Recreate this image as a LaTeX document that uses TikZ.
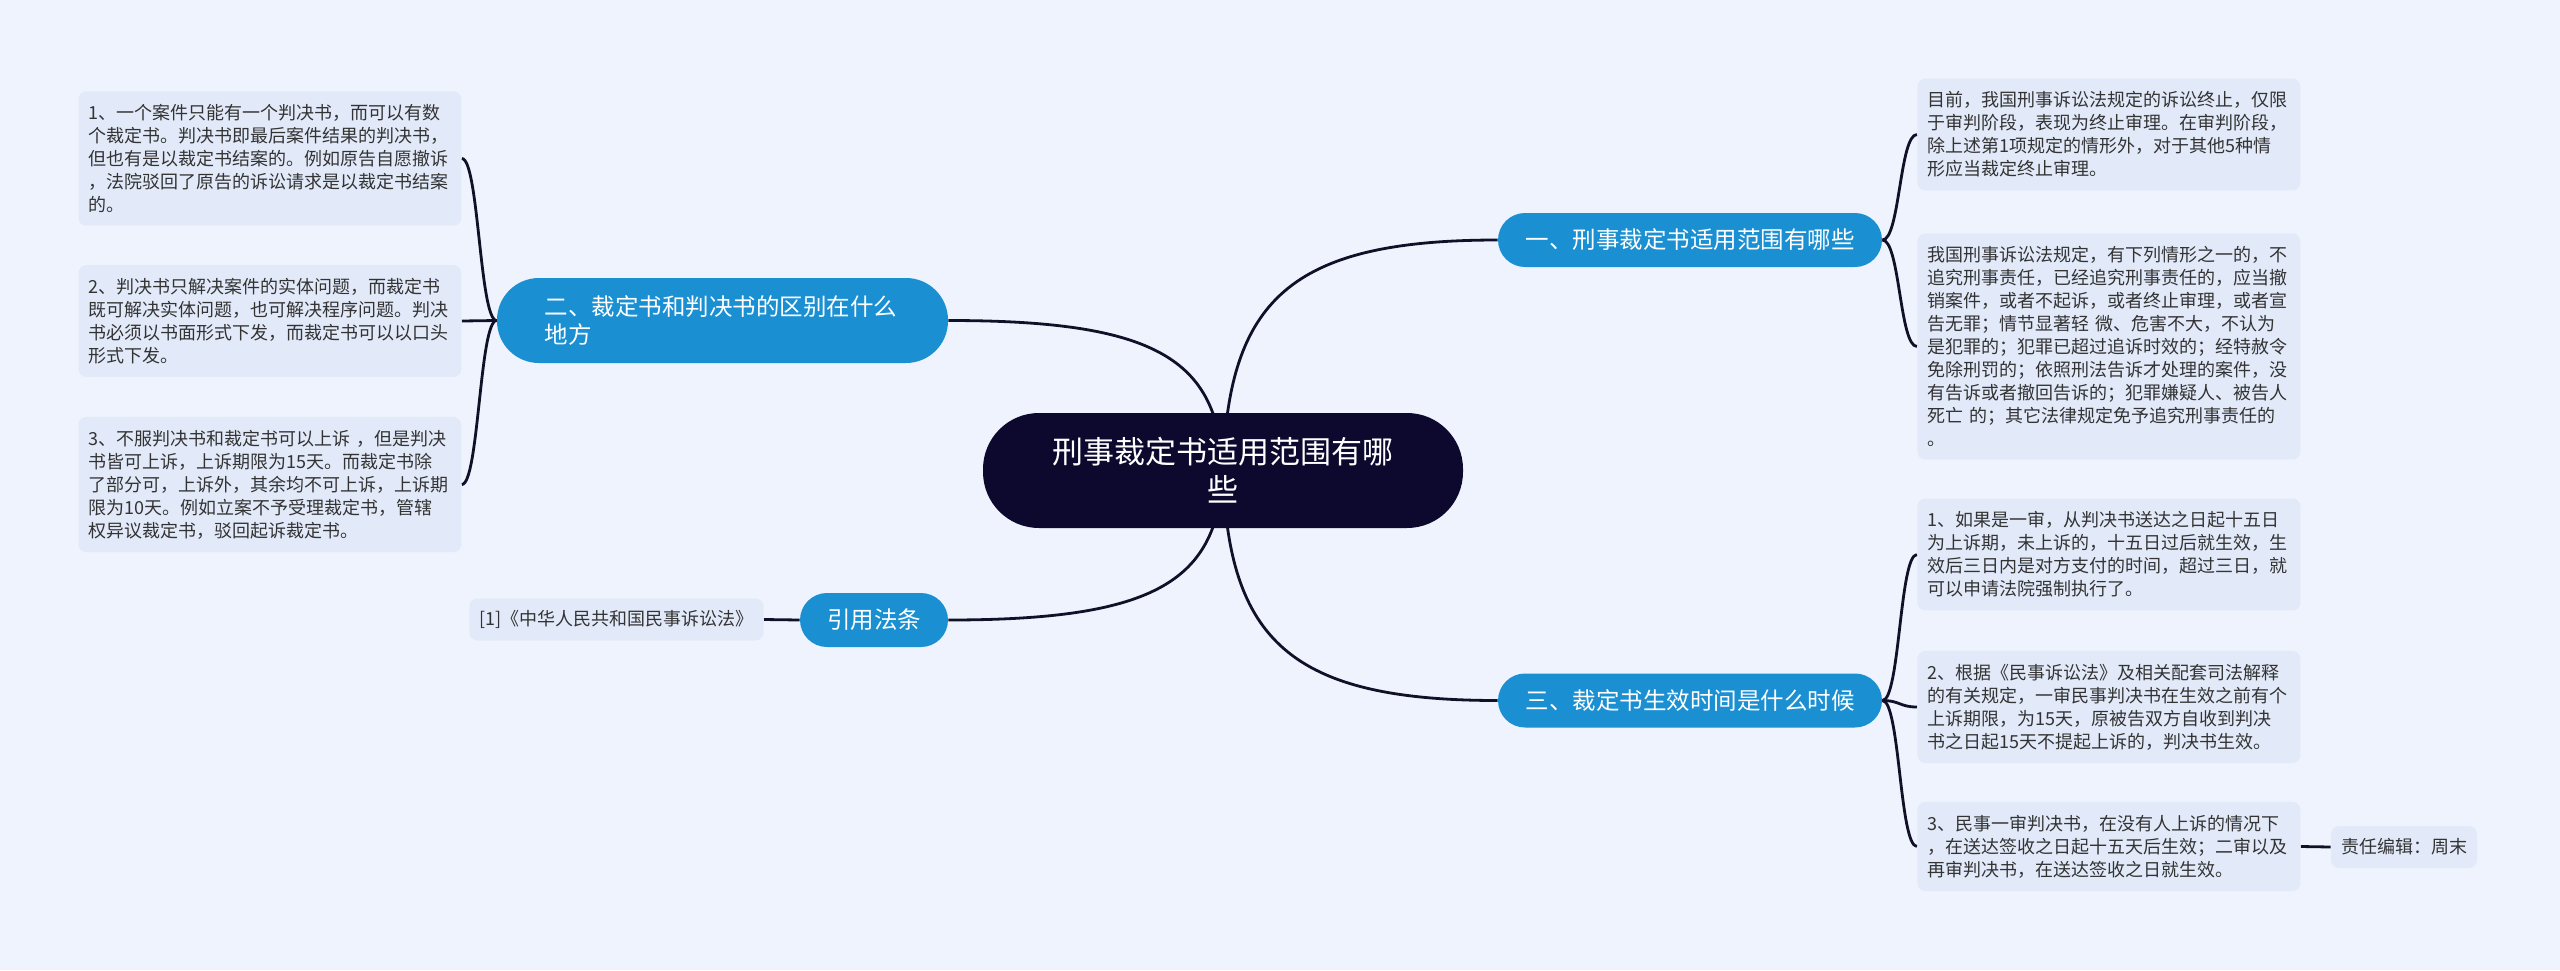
\documentclass[tikz,border=0pt]{standalone}
\usepackage{fontspec}
\setmainfont{Noto Sans CJK SC}
\usetikzlibrary{calc}
\pgfdeclarelayer{back}
\pgfdeclarelayer{bg}
\pgfsetlayers{back,bg,main}
\definecolor{bgc}{RGB}{238,243,253}
\definecolor{leafc}{RGB}{226,234,250}
\definecolor{bluec}{RGB}{26,144,210}
\definecolor{rootc}{RGB}{12,8,46}
\definecolor{linec}{RGB}{16,16,40}
\definecolor{txtc}{RGB}{51,51,51}
\begin{document}
\begin{tikzpicture}[x=0.5pt,y=-0.5pt,
  leaf/.style={fill=leafc, rounded corners=4pt, text=txtc,
    font=\fontsize{9}{11.5}\selectfont, align=left, inner xsep=5pt,
    inner ysep=6.5pt, text width=181.5pt},
  small/.style={fill=leafc, rounded corners=4pt, text=txtc,
    font=\fontsize{9}{11.5}\selectfont, inner xsep=5pt, minimum height=21pt},
  branch/.style={fill=bluec, text=white, rounded corners=13.5pt,
    minimum height=27pt, font=\fontsize{11.75}{14}\selectfont, inner xsep=6pt},
  root/.style={fill=rootc, text=white, rounded corners=28pt,
    minimum width=240pt, minimum height=57.5pt,
    font=\fontsize{15.5}{19}\selectfont, align=center},
  conn/.style={draw=linec, line width=1.4pt}]
\begin{pgfonlayer}{back}
\fill[bgc] (0,0) rectangle (2560,970);
\end{pgfonlayer}
\useasboundingbox (0,0) rectangle (2560,970);

% root
\node[root] (root) at (1223,470.5) {刑事裁定书适用范围有哪\\些};

% branches
\node[branch, minimum width=192pt] (b1) at (1690,240) {一、刑事裁定书适用范围有哪些};
\node[branch, minimum width=192pt] (b3) at (1690,700.5) {三、裁定书生效时间是什么时候};
\node[branch, minimum width=225.5pt, minimum height=42.5pt, rounded corners=21pt,
  text width=178pt, align=left] (b2) at (722.5,320.5) {二、裁定书和判决书的区别在什么\\地方};
\node[branch, minimum width=74pt] (b4) at (874,620) {引用法条};

% left leaves
\node[leaf, anchor=west] (l1) at (78,158.5) {1、一个案件只能有一个判决书，而可以有数\\个裁定书。判决书即最后案件结果的判决书，\\但也有是以裁定书结案的。例如原告自愿撤诉\\，法院驳回了原告的诉讼请求是以裁定书结案\\的。};
\node[leaf, anchor=west] (l2) at (78,321) {2、判决书只解决案件的实体问题，而裁定书\\既可解决实体问题，也可解决程序问题。判决\\书必须以书面形式下发，而裁定书可以以口头\\形式下发。};
\node[leaf, anchor=west] (l3) at (78,484.5) {3、不服判决书和裁定书可以上诉 ，但是判决\\书皆可上诉，上诉期限为15天。而裁定书除\\了部分可，上诉外，其余均不可上诉，上诉期\\限为10天。例如立案不予受理裁定书，管辖\\权异议裁定书，驳回起诉裁定书。};

% citation
\node[small] (cite) at (616.5,619.5) {[1]《中华人民共和国民事诉讼法》};

% right leaves
\node[leaf, anchor=west] (r1) at (1917,134.5) {目前，我国刑事诉讼法规定的诉讼终止，仅限\\于审判阶段，表现为终止审理。在审判阶段，\\除上述第1项规定的情形外，对于其他5种情\\形应当裁定终止审理。};
\node[leaf, anchor=west] (r2) at (1917,346.5) {我国刑事诉讼法规定，有下列情形之一的，不\\追究刑事责任，已经追究刑事责任的，应当撤\\销案件，或者不起诉，或者终止审理，或者宣\\告无罪；情节显著轻 微、危害不大，不认为\\是犯罪的；犯罪已超过追诉时效的；经特赦令\\免除刑罚的；依照刑法告诉才处理的案件，没\\有告诉或者撤回告诉的；犯罪嫌疑人、被告人\\死亡 的；其它法律规定免予追究刑事责任的\\。};
\node[leaf, anchor=west] (r3) at (1917,554.5) {1、如果是一审，从判决书送达之日起十五日\\为上诉期，未上诉的，十五日过后就生效，生\\效后三日内是对方支付的时间，超过三日，就\\可以申请法院强制执行了。};
\node[leaf, anchor=west] (r4) at (1917,707) {2、根据《民事诉讼法》及相关配套司法解释\\的有关规定，一审民事判决书在生效之前有个\\上诉期限，为15天，原被告双方自收到判决\\书之日起15天不提起上诉的，判决书生效。};
\node[leaf, anchor=west] (r5) at (1917,846.5) {3、民事一审判决书，在没有人上诉的情况下\\，在送达签收之日起十五天后生效；二审以及\\再审判决书，在送达签收之日就生效。};

% editor
\node[small] (ed) at (2404,847) {责任编辑：周末};

\begin{pgfonlayer}{bg}
  % root to branches
  \draw[conn] (root.center) .. controls (1228,300) and (1290,240) .. (b1.west);
  \draw[conn] (root.center) .. controls (1228,640) and (1290,700.5) .. (b3.west);
  \draw[conn] (root.center) .. controls (1218,359) and (1156,320.5) .. (b2.east);
  \draw[conn] (root.center) .. controls (1218,581) and (1156,620) .. (b4.east);
  % left brace
  \draw[conn] (b2.west) .. controls ($(b2.west)+(-17,0)$) and ($(l1.east)+(17,0)$) .. (l1.east);
  \draw[conn] (b2.west) .. controls ($(b2.west)+(-17,0)$) and ($(l2.east)+(17,0)$) .. (l2.east);
  \draw[conn] (b2.west) .. controls ($(b2.west)+(-17,0)$) and ($(l3.east)+(17,0)$) .. (l3.east);
  % right braces
  \draw[conn] (b1.east) .. controls ($(b1.east)+(17.5,0)$) and ($(r1.west)+(-17.5,0)$) .. (r1.west);
  \draw[conn] (b1.east) .. controls ($(b1.east)+(17.5,0)$) and ($(r2.west)+(-17.5,0)$) .. (r2.west);
  \draw[conn] (b3.east) .. controls ($(b3.east)+(17.5,0)$) and ($(r3.west)+(-17.5,0)$) .. (r3.west);
  \draw[conn] (b3.east) .. controls ($(b3.east)+(17.5,0)$) and ($(r4.west)+(-17.5,0)$) .. (r4.west);
  \draw[conn] (b3.east) .. controls ($(b3.east)+(17.5,0)$) and ($(r5.west)+(-17.5,0)$) .. (r5.west);
  % straight links
  \draw[conn] (b4.west) -- (cite.east);
  \draw[conn] (r5.east) -- (ed.west);
\end{pgfonlayer}
\end{tikzpicture}
\end{document}
